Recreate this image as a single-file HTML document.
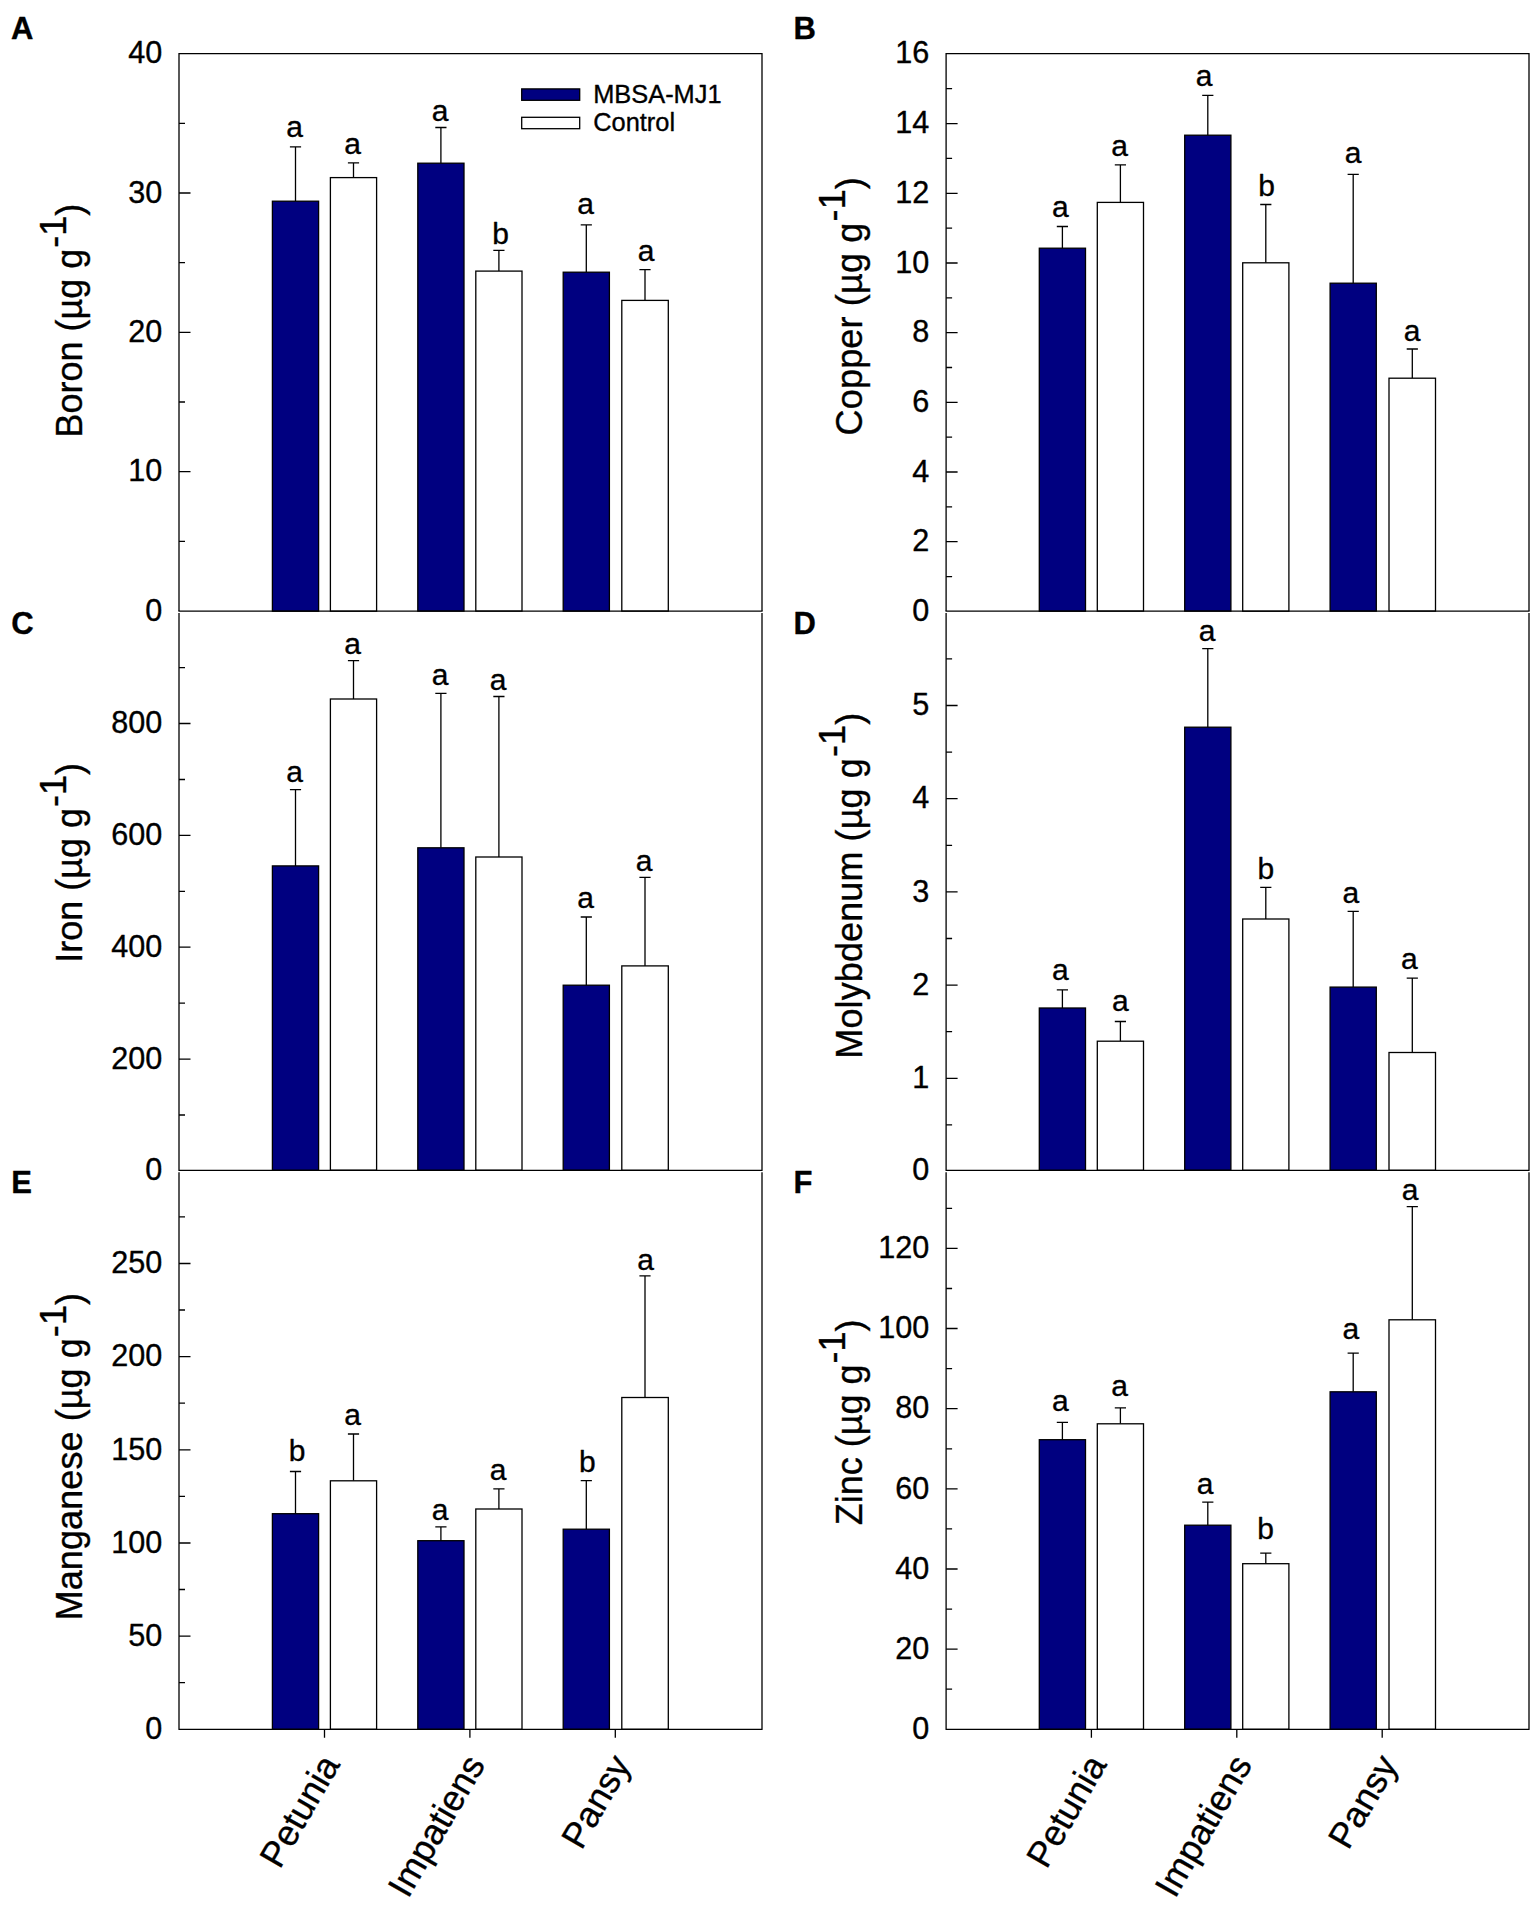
<!DOCTYPE html>
<html lang="en"><head><meta charset="utf-8"><title>Figure</title>
<style>html,body{margin:0;padding:0;background:#fff}svg{display:block}</style>
</head><body>
<svg width="1535" height="1906" viewBox="0 0 1535 1906" font-family='"Liberation Sans", sans-serif' fill="#000"><style>text{stroke:#000;stroke-width:0.35px;stroke-linejoin:round}</style>
<rect x="0" y="0" width="1535" height="1906" fill="#fff"/>
<g id="panelA">
<path d="M295.5 201.2V146.8M289.9 146.8H301.1" stroke="#000" stroke-width="1.3" fill="none"/>
<rect x="272.4" y="201.2" width="46.2" height="410.0" fill="#000080" stroke="#000" stroke-width="1.3"/>
<text x="294.7" y="137.3" font-size="30" text-anchor="middle">a</text>
<path d="M353.5 177.6V162.8M347.9 162.8H359.1" stroke="#000" stroke-width="1.3" fill="none"/>
<rect x="330.4" y="177.6" width="46.2" height="433.6" fill="#fff" stroke="#000" stroke-width="1.3"/>
<text x="352.7" y="154.1" font-size="30" text-anchor="middle">a</text>
<path d="M440.9 163.2V127.5M435.3 127.5H446.5" stroke="#000" stroke-width="1.3" fill="none"/>
<rect x="417.8" y="163.2" width="46.2" height="447.9" fill="#000080" stroke="#000" stroke-width="1.3"/>
<text x="440.1" y="120.8" font-size="30" text-anchor="middle">a</text>
<path d="M498.9 271.1V250.3M493.3 250.3H504.5" stroke="#000" stroke-width="1.3" fill="none"/>
<rect x="475.8" y="271.1" width="46.2" height="340.0" fill="#fff" stroke="#000" stroke-width="1.3"/>
<text x="500.6" y="243.7" font-size="30" text-anchor="middle">b</text>
<path d="M586.3 272.2V224.8M580.7 224.8H591.9" stroke="#000" stroke-width="1.3" fill="none"/>
<rect x="563.2" y="272.2" width="46.2" height="338.9" fill="#000080" stroke="#000" stroke-width="1.3"/>
<text x="585.5" y="213.7" font-size="30" text-anchor="middle">a</text>
<path d="M645.0 300.4V269.7M639.4 269.7H650.6" stroke="#000" stroke-width="1.3" fill="none"/>
<rect x="621.8" y="300.4" width="46.5" height="310.7" fill="#fff" stroke="#000" stroke-width="1.3"/>
<text x="646.2" y="261.2" font-size="30" text-anchor="middle">a</text>
<path d="M179.0 611.1V53.6H762.0V611.1" stroke="#000" stroke-width="1.3" fill="none"/>
<path d="M178.4 611.1H762.6" stroke="#000" stroke-width="1.3" fill="none"/>
<path d="M179.0 541.4h6M179.0 471.7h11.5M179.0 402.0h6M179.0 332.4h11.5M179.0 262.7h6M179.0 193.0h11.5M179.0 123.3h6" stroke="#000" stroke-width="1.3" fill="none"/>
<text x="162.2" y="620.8" font-size="30.6" text-anchor="end">0</text>
<text x="162.2" y="481.4" font-size="30.6" text-anchor="end">10</text>
<text x="162.2" y="342.1" font-size="30.6" text-anchor="end">20</text>
<text x="162.2" y="202.7" font-size="30.6" text-anchor="end">30</text>
<text x="162.2" y="63.3" font-size="30.6" text-anchor="end">40</text>
<text transform="translate(82.3,437.5) rotate(-90)" font-size="36" letter-spacing="0">Boron (µg g<tspan dy="-16.8" dx="1">-1</tspan><tspan dy="16.8">)</tspan></text>
<text x="11.0" y="39.0" font-size="31" font-weight="bold">A</text>
</g>
<g id="panelB">
<path d="M1062.4 248.2V226.5M1056.8 226.5H1068.0" stroke="#000" stroke-width="1.3" fill="none"/>
<rect x="1039.3" y="248.2" width="46.2" height="363.0" fill="#000080" stroke="#000" stroke-width="1.3"/>
<text x="1060.4" y="217.2" font-size="30" text-anchor="middle">a</text>
<path d="M1120.4 202.4V164.9M1114.8 164.9H1126.0" stroke="#000" stroke-width="1.3" fill="none"/>
<rect x="1097.3" y="202.4" width="46.2" height="408.7" fill="#fff" stroke="#000" stroke-width="1.3"/>
<text x="1119.6" y="155.9" font-size="30" text-anchor="middle">a</text>
<path d="M1207.8 135.2V95.4M1202.2 95.4H1213.4" stroke="#000" stroke-width="1.3" fill="none"/>
<rect x="1184.7" y="135.2" width="46.2" height="475.9" fill="#000080" stroke="#000" stroke-width="1.3"/>
<text x="1204.2" y="86.4" font-size="30" text-anchor="middle">a</text>
<path d="M1265.8 262.8V204.5M1260.2 204.5H1271.4" stroke="#000" stroke-width="1.3" fill="none"/>
<rect x="1242.7" y="262.8" width="46.2" height="348.4" fill="#fff" stroke="#000" stroke-width="1.3"/>
<text x="1266.5" y="196.2" font-size="30" text-anchor="middle">b</text>
<path d="M1353.2 283.2V174.3M1347.6 174.3H1358.8" stroke="#000" stroke-width="1.3" fill="none"/>
<rect x="1330.1" y="283.2" width="46.2" height="327.9" fill="#000080" stroke="#000" stroke-width="1.3"/>
<text x="1353.0" y="162.5" font-size="30" text-anchor="middle">a</text>
<path d="M1412.3 378.2V349.0M1406.7 349.0H1417.9" stroke="#000" stroke-width="1.3" fill="none"/>
<rect x="1389.0" y="378.2" width="46.5" height="232.9" fill="#fff" stroke="#000" stroke-width="1.3"/>
<text x="1412.0" y="341.0" font-size="30" text-anchor="middle">a</text>
<path d="M946.1 611.1V53.6H1529.0V611.1" stroke="#000" stroke-width="1.3" fill="none"/>
<path d="M945.5 611.1H1529.6" stroke="#000" stroke-width="1.3" fill="none"/>
<path d="M946.1 576.6h6M946.1 541.7h11.5M946.1 506.9h6M946.1 472.0h11.5M946.1 437.2h6M946.1 402.3h11.5M946.1 367.5h6M946.1 332.7h11.5M946.1 297.8h6M946.1 263.0h11.5M946.1 228.1h6M946.1 193.3h11.5M946.1 158.4h6M946.1 123.6h11.5M946.1 88.7h6" stroke="#000" stroke-width="1.3" fill="none"/>
<text x="929.3" y="620.8" font-size="30.6" text-anchor="end">0</text>
<text x="929.3" y="551.4" font-size="30.6" text-anchor="end">2</text>
<text x="929.3" y="481.7" font-size="30.6" text-anchor="end">4</text>
<text x="929.3" y="412.0" font-size="30.6" text-anchor="end">6</text>
<text x="929.3" y="342.4" font-size="30.6" text-anchor="end">8</text>
<text x="929.3" y="272.7" font-size="30.6" text-anchor="end">10</text>
<text x="929.3" y="203.0" font-size="30.6" text-anchor="end">12</text>
<text x="929.3" y="133.3" font-size="30.6" text-anchor="end">14</text>
<text x="929.3" y="63.3" font-size="30.6" text-anchor="end">16</text>
<text transform="translate(862.0,435.4) rotate(-90)" font-size="36" letter-spacing="0.17">Copper (µg g<tspan dy="-16.8" dx="1">-1</tspan><tspan dy="16.8">)</tspan></text>
<text x="793.4" y="38.9" font-size="31" font-weight="bold">B</text>
</g>
<g id="panelC">
<path d="M295.5 865.9V789.7M289.9 789.7H301.1" stroke="#000" stroke-width="1.3" fill="none"/>
<rect x="272.4" y="865.9" width="46.2" height="304.4" fill="#000080" stroke="#000" stroke-width="1.3"/>
<text x="294.7" y="781.7" font-size="30" text-anchor="middle">a</text>
<path d="M353.5 699.0V660.7M347.9 660.7H359.1" stroke="#000" stroke-width="1.3" fill="none"/>
<rect x="330.4" y="699.0" width="46.2" height="471.2" fill="#fff" stroke="#000" stroke-width="1.3"/>
<text x="352.7" y="653.5" font-size="30" text-anchor="middle">a</text>
<path d="M440.9 847.8V693.3M435.3 693.3H446.5" stroke="#000" stroke-width="1.3" fill="none"/>
<rect x="417.8" y="847.8" width="46.2" height="322.5" fill="#000080" stroke="#000" stroke-width="1.3"/>
<text x="440.1" y="684.7" font-size="30" text-anchor="middle">a</text>
<path d="M498.9 857.0V696.5M493.3 696.5H504.5" stroke="#000" stroke-width="1.3" fill="none"/>
<rect x="475.8" y="857.0" width="46.2" height="313.2" fill="#fff" stroke="#000" stroke-width="1.3"/>
<text x="498.1" y="690.0" font-size="30" text-anchor="middle">a</text>
<path d="M586.3 985.2V917.0M580.7 917.0H591.9" stroke="#000" stroke-width="1.3" fill="none"/>
<rect x="563.2" y="985.2" width="46.2" height="185.0" fill="#000080" stroke="#000" stroke-width="1.3"/>
<text x="585.5" y="907.5" font-size="30" text-anchor="middle">a</text>
<path d="M645.0 965.9V877.4M639.4 877.4H650.6" stroke="#000" stroke-width="1.3" fill="none"/>
<rect x="621.8" y="965.9" width="46.5" height="204.4" fill="#fff" stroke="#000" stroke-width="1.3"/>
<text x="644.2" y="870.9" font-size="30" text-anchor="middle">a</text>
<path d="M179.0 613.1V1170.3M762.0 613.1V1170.3M178.4 1170.3H762.6" stroke="#000" stroke-width="1.3" fill="none"/>
<path d="M179.0 1115.0h6M179.0 1059.1h11.5M179.0 1003.1h6M179.0 947.2h11.5M179.0 891.3h6M179.0 835.4h11.5M179.0 779.5h6M179.0 723.5h11.5M179.0 667.6h6" stroke="#000" stroke-width="1.3" fill="none"/>
<text x="162.2" y="1180.0" font-size="30.6" text-anchor="end">0</text>
<text x="162.2" y="1068.8" font-size="30.6" text-anchor="end">200</text>
<text x="162.2" y="956.9" font-size="30.6" text-anchor="end">400</text>
<text x="162.2" y="845.1" font-size="30.6" text-anchor="end">600</text>
<text x="162.2" y="733.2" font-size="30.6" text-anchor="end">800</text>
<text transform="translate(82.3,962.8) rotate(-90)" font-size="36" letter-spacing="0">Iron (µg g<tspan dy="-16.8" dx="1">-1</tspan><tspan dy="16.8">)</tspan></text>
<text x="11.2" y="634.2" font-size="31" font-weight="bold">C</text>
</g>
<g id="panelD">
<path d="M1062.4 1008.0V989.8M1056.8 989.8H1068.0" stroke="#000" stroke-width="1.3" fill="none"/>
<rect x="1039.3" y="1008.0" width="46.2" height="162.3" fill="#000080" stroke="#000" stroke-width="1.3"/>
<text x="1060.4" y="980.3" font-size="30" text-anchor="middle">a</text>
<path d="M1120.4 1041.2V1021.5M1114.8 1021.5H1126.0" stroke="#000" stroke-width="1.3" fill="none"/>
<rect x="1097.3" y="1041.2" width="46.2" height="129.1" fill="#fff" stroke="#000" stroke-width="1.3"/>
<text x="1120.3" y="1010.5" font-size="30" text-anchor="middle">a</text>
<path d="M1207.8 727.2V648.7M1202.2 648.7H1213.4" stroke="#000" stroke-width="1.3" fill="none"/>
<rect x="1184.7" y="727.2" width="46.2" height="443.0" fill="#000080" stroke="#000" stroke-width="1.3"/>
<text x="1207.0" y="641.2" font-size="30" text-anchor="middle">a</text>
<path d="M1265.8 919.0V887.3M1260.2 887.3H1271.4" stroke="#000" stroke-width="1.3" fill="none"/>
<rect x="1242.7" y="919.0" width="46.2" height="251.3" fill="#fff" stroke="#000" stroke-width="1.3"/>
<text x="1265.9" y="878.8" font-size="30" text-anchor="middle">b</text>
<path d="M1353.2 987.1V911.4M1347.6 911.4H1358.8" stroke="#000" stroke-width="1.3" fill="none"/>
<rect x="1330.1" y="987.1" width="46.2" height="183.1" fill="#000080" stroke="#000" stroke-width="1.3"/>
<text x="1350.9" y="902.9" font-size="30" text-anchor="middle">a</text>
<path d="M1412.3 1052.5V978.1M1406.7 978.1H1417.9" stroke="#000" stroke-width="1.3" fill="none"/>
<rect x="1389.0" y="1052.5" width="46.5" height="117.8" fill="#fff" stroke="#000" stroke-width="1.3"/>
<text x="1409.3" y="968.6" font-size="30" text-anchor="middle">a</text>
<path d="M946.1 613.1V1170.3M1529.0 613.1V1170.3M945.5 1170.3H1529.6" stroke="#000" stroke-width="1.3" fill="none"/>
<path d="M946.1 1124.9h6M946.1 1078.3h11.5M946.1 1031.7h6M946.1 985.1h11.5M946.1 938.5h6M946.1 891.9h11.5M946.1 845.3h6M946.1 798.7h11.5M946.1 752.1h6M946.1 705.5h11.5M946.1 658.9h6" stroke="#000" stroke-width="1.3" fill="none"/>
<text x="929.3" y="1180.0" font-size="30.6" text-anchor="end">0</text>
<text x="929.3" y="1088.0" font-size="30.6" text-anchor="end">1</text>
<text x="929.3" y="994.8" font-size="30.6" text-anchor="end">2</text>
<text x="929.3" y="901.6" font-size="30.6" text-anchor="end">3</text>
<text x="929.3" y="808.4" font-size="30.6" text-anchor="end">4</text>
<text x="929.3" y="715.2" font-size="30.6" text-anchor="end">5</text>
<text transform="translate(862.0,1058.7) rotate(-90)" font-size="36" letter-spacing="0.11">Molybdenum (µg g<tspan dy="-16.8" dx="1">-1</tspan><tspan dy="16.8">)</tspan></text>
<text x="793.4" y="634.2" font-size="31" font-weight="bold">D</text>
</g>
<g id="panelE">
<path d="M295.5 1513.7V1471.5M289.9 1471.5H301.1" stroke="#000" stroke-width="1.3" fill="none"/>
<rect x="272.4" y="1513.7" width="46.2" height="215.6" fill="#000080" stroke="#000" stroke-width="1.3"/>
<text x="297.0" y="1461.0" font-size="30" text-anchor="middle">b</text>
<path d="M353.5 1480.8V1434.0M347.9 1434.0H359.1" stroke="#000" stroke-width="1.3" fill="none"/>
<rect x="330.4" y="1480.8" width="46.2" height="248.5" fill="#fff" stroke="#000" stroke-width="1.3"/>
<text x="352.7" y="1424.5" font-size="30" text-anchor="middle">a</text>
<path d="M440.9 1540.7V1526.9M435.3 1526.9H446.5" stroke="#000" stroke-width="1.3" fill="none"/>
<rect x="417.8" y="1540.7" width="46.2" height="188.6" fill="#000080" stroke="#000" stroke-width="1.3"/>
<text x="440.1" y="1519.7" font-size="30" text-anchor="middle">a</text>
<path d="M498.9 1509.0V1488.8M493.3 1488.8H504.5" stroke="#000" stroke-width="1.3" fill="none"/>
<rect x="475.8" y="1509.0" width="46.2" height="220.3" fill="#fff" stroke="#000" stroke-width="1.3"/>
<text x="498.1" y="1480.3" font-size="30" text-anchor="middle">a</text>
<path d="M586.3 1529.2V1480.6M580.7 1480.6H591.9" stroke="#000" stroke-width="1.3" fill="none"/>
<rect x="563.2" y="1529.2" width="46.2" height="200.1" fill="#000080" stroke="#000" stroke-width="1.3"/>
<text x="587.3" y="1471.6" font-size="30" text-anchor="middle">b</text>
<path d="M645.0 1397.5V1275.9M639.4 1275.9H650.6" stroke="#000" stroke-width="1.3" fill="none"/>
<rect x="621.8" y="1397.5" width="46.5" height="331.8" fill="#fff" stroke="#000" stroke-width="1.3"/>
<text x="645.5" y="1270.2" font-size="30" text-anchor="middle">a</text>
<path d="M179.0 1172.3V1729.3M762.0 1172.3V1729.3M178.4 1729.3H762.6" stroke="#000" stroke-width="1.3" fill="none"/>
<path d="M179.0 1682.7h6M179.0 1636.1h11.5M179.0 1589.5h6M179.0 1543.0h11.5M179.0 1496.4h6M179.0 1449.8h11.5M179.0 1403.2h6M179.0 1356.6h11.5M179.0 1310.0h6M179.0 1263.5h11.5M179.0 1216.9h6" stroke="#000" stroke-width="1.3" fill="none"/>
<text x="162.2" y="1739.0" font-size="30.6" text-anchor="end">0</text>
<text x="162.2" y="1645.8" font-size="30.6" text-anchor="end">50</text>
<text x="162.2" y="1552.7" font-size="30.6" text-anchor="end">100</text>
<text x="162.2" y="1459.5" font-size="30.6" text-anchor="end">150</text>
<text x="162.2" y="1366.3" font-size="30.6" text-anchor="end">200</text>
<text x="162.2" y="1273.2" font-size="30.6" text-anchor="end">250</text>
<text transform="translate(82.3,1620.3) rotate(-90)" font-size="36" letter-spacing="0.08">Manganese (µg g<tspan dy="-16.8" dx="1">-1</tspan><tspan dy="16.8">)</tspan></text>
<text x="11.2" y="1193.1" font-size="31" font-weight="bold">E</text>
</g>
<g id="panelF">
<path d="M1062.4 1439.7V1422.4M1056.8 1422.4H1068.0" stroke="#000" stroke-width="1.3" fill="none"/>
<rect x="1039.3" y="1439.7" width="46.2" height="289.6" fill="#000080" stroke="#000" stroke-width="1.3"/>
<text x="1060.4" y="1411.1" font-size="30" text-anchor="middle">a</text>
<path d="M1120.4 1423.8V1407.8M1114.8 1407.8H1126.0" stroke="#000" stroke-width="1.3" fill="none"/>
<rect x="1097.3" y="1423.8" width="46.2" height="305.5" fill="#fff" stroke="#000" stroke-width="1.3"/>
<text x="1119.6" y="1396.3" font-size="30" text-anchor="middle">a</text>
<path d="M1207.8 1525.2V1502.2M1202.2 1502.2H1213.4" stroke="#000" stroke-width="1.3" fill="none"/>
<rect x="1184.7" y="1525.2" width="46.2" height="204.0" fill="#000080" stroke="#000" stroke-width="1.3"/>
<text x="1205.0" y="1493.6" font-size="30" text-anchor="middle">a</text>
<path d="M1265.8 1563.7V1553.2M1260.2 1553.2H1271.4" stroke="#000" stroke-width="1.3" fill="none"/>
<rect x="1242.7" y="1563.7" width="46.2" height="165.6" fill="#fff" stroke="#000" stroke-width="1.3"/>
<text x="1265.5" y="1539.0" font-size="30" text-anchor="middle">b</text>
<path d="M1353.2 1391.8V1353.2M1347.6 1353.2H1358.8" stroke="#000" stroke-width="1.3" fill="none"/>
<rect x="1330.1" y="1391.8" width="46.2" height="337.5" fill="#000080" stroke="#000" stroke-width="1.3"/>
<text x="1350.9" y="1339.0" font-size="30" text-anchor="middle">a</text>
<path d="M1412.3 1319.8V1206.6M1406.7 1206.6H1417.9" stroke="#000" stroke-width="1.3" fill="none"/>
<rect x="1389.0" y="1319.8" width="46.5" height="409.5" fill="#fff" stroke="#000" stroke-width="1.3"/>
<text x="1410.0" y="1200.1" font-size="30" text-anchor="middle">a</text>
<path d="M946.1 1172.3V1729.3M1529.0 1172.3V1729.3M945.5 1729.3H1529.6" stroke="#000" stroke-width="1.3" fill="none"/>
<path d="M946.1 1689.2h6M946.1 1649.1h11.5M946.1 1609.1h6M946.1 1569.0h11.5M946.1 1528.9h6M946.1 1488.8h11.5M946.1 1448.8h6M946.1 1408.7h11.5M946.1 1368.6h6M946.1 1328.5h11.5M946.1 1288.5h6M946.1 1248.4h11.5M946.1 1208.3h6" stroke="#000" stroke-width="1.3" fill="none"/>
<text x="929.3" y="1739.0" font-size="30.6" text-anchor="end">0</text>
<text x="929.3" y="1658.8" font-size="30.6" text-anchor="end">20</text>
<text x="929.3" y="1578.7" font-size="30.6" text-anchor="end">40</text>
<text x="929.3" y="1498.5" font-size="30.6" text-anchor="end">60</text>
<text x="929.3" y="1418.4" font-size="30.6" text-anchor="end">80</text>
<text x="929.3" y="1338.2" font-size="30.6" text-anchor="end">100</text>
<text x="929.3" y="1258.1" font-size="30.6" text-anchor="end">120</text>
<text transform="translate(862.0,1525.3) rotate(-90)" font-size="36" letter-spacing="0">Zinc (µg g<tspan dy="-16.8" dx="1">-1</tspan><tspan dy="16.8">)</tspan></text>
<text x="793.4" y="1193.1" font-size="31" font-weight="bold">F</text>
</g>
<path d="M324.5 1729.3v8.4M469.9 1729.3v8.4M615.3 1729.3v8.4" stroke="#000" stroke-width="1.3" fill="none"/>
<text transform="translate(340.7,1764.3) rotate(-60)" font-size="36" text-anchor="end">Petunia</text>
<text transform="translate(486.1,1764.3) rotate(-60)" font-size="36" text-anchor="end">Impatiens</text>
<text transform="translate(631.5,1764.3) rotate(-60)" font-size="36" text-anchor="end">Pansy</text>
<path d="M1091.4 1729.3v8.4M1236.8 1729.3v8.4M1382.2 1729.3v8.4" stroke="#000" stroke-width="1.3" fill="none"/>
<text transform="translate(1107.6,1764.3) rotate(-60)" font-size="36" text-anchor="end">Petunia</text>
<text transform="translate(1253.0,1764.3) rotate(-60)" font-size="36" text-anchor="end">Impatiens</text>
<text transform="translate(1398.4,1764.3) rotate(-60)" font-size="36" text-anchor="end">Pansy</text>
<rect x="521.7" y="88.9" width="58.0" height="11.4" fill="#000080" stroke="#000" stroke-width="1.3"/>
<rect x="521.7" y="117.3" width="58.0" height="11.4" fill="#fff" stroke="#000" stroke-width="1.3"/>
<text x="593.2" y="102.5" font-size="25.4">MBSA-MJ1</text>
<text x="593.2" y="130.9" font-size="25.4">Control</text>
</svg>
</body></html>
